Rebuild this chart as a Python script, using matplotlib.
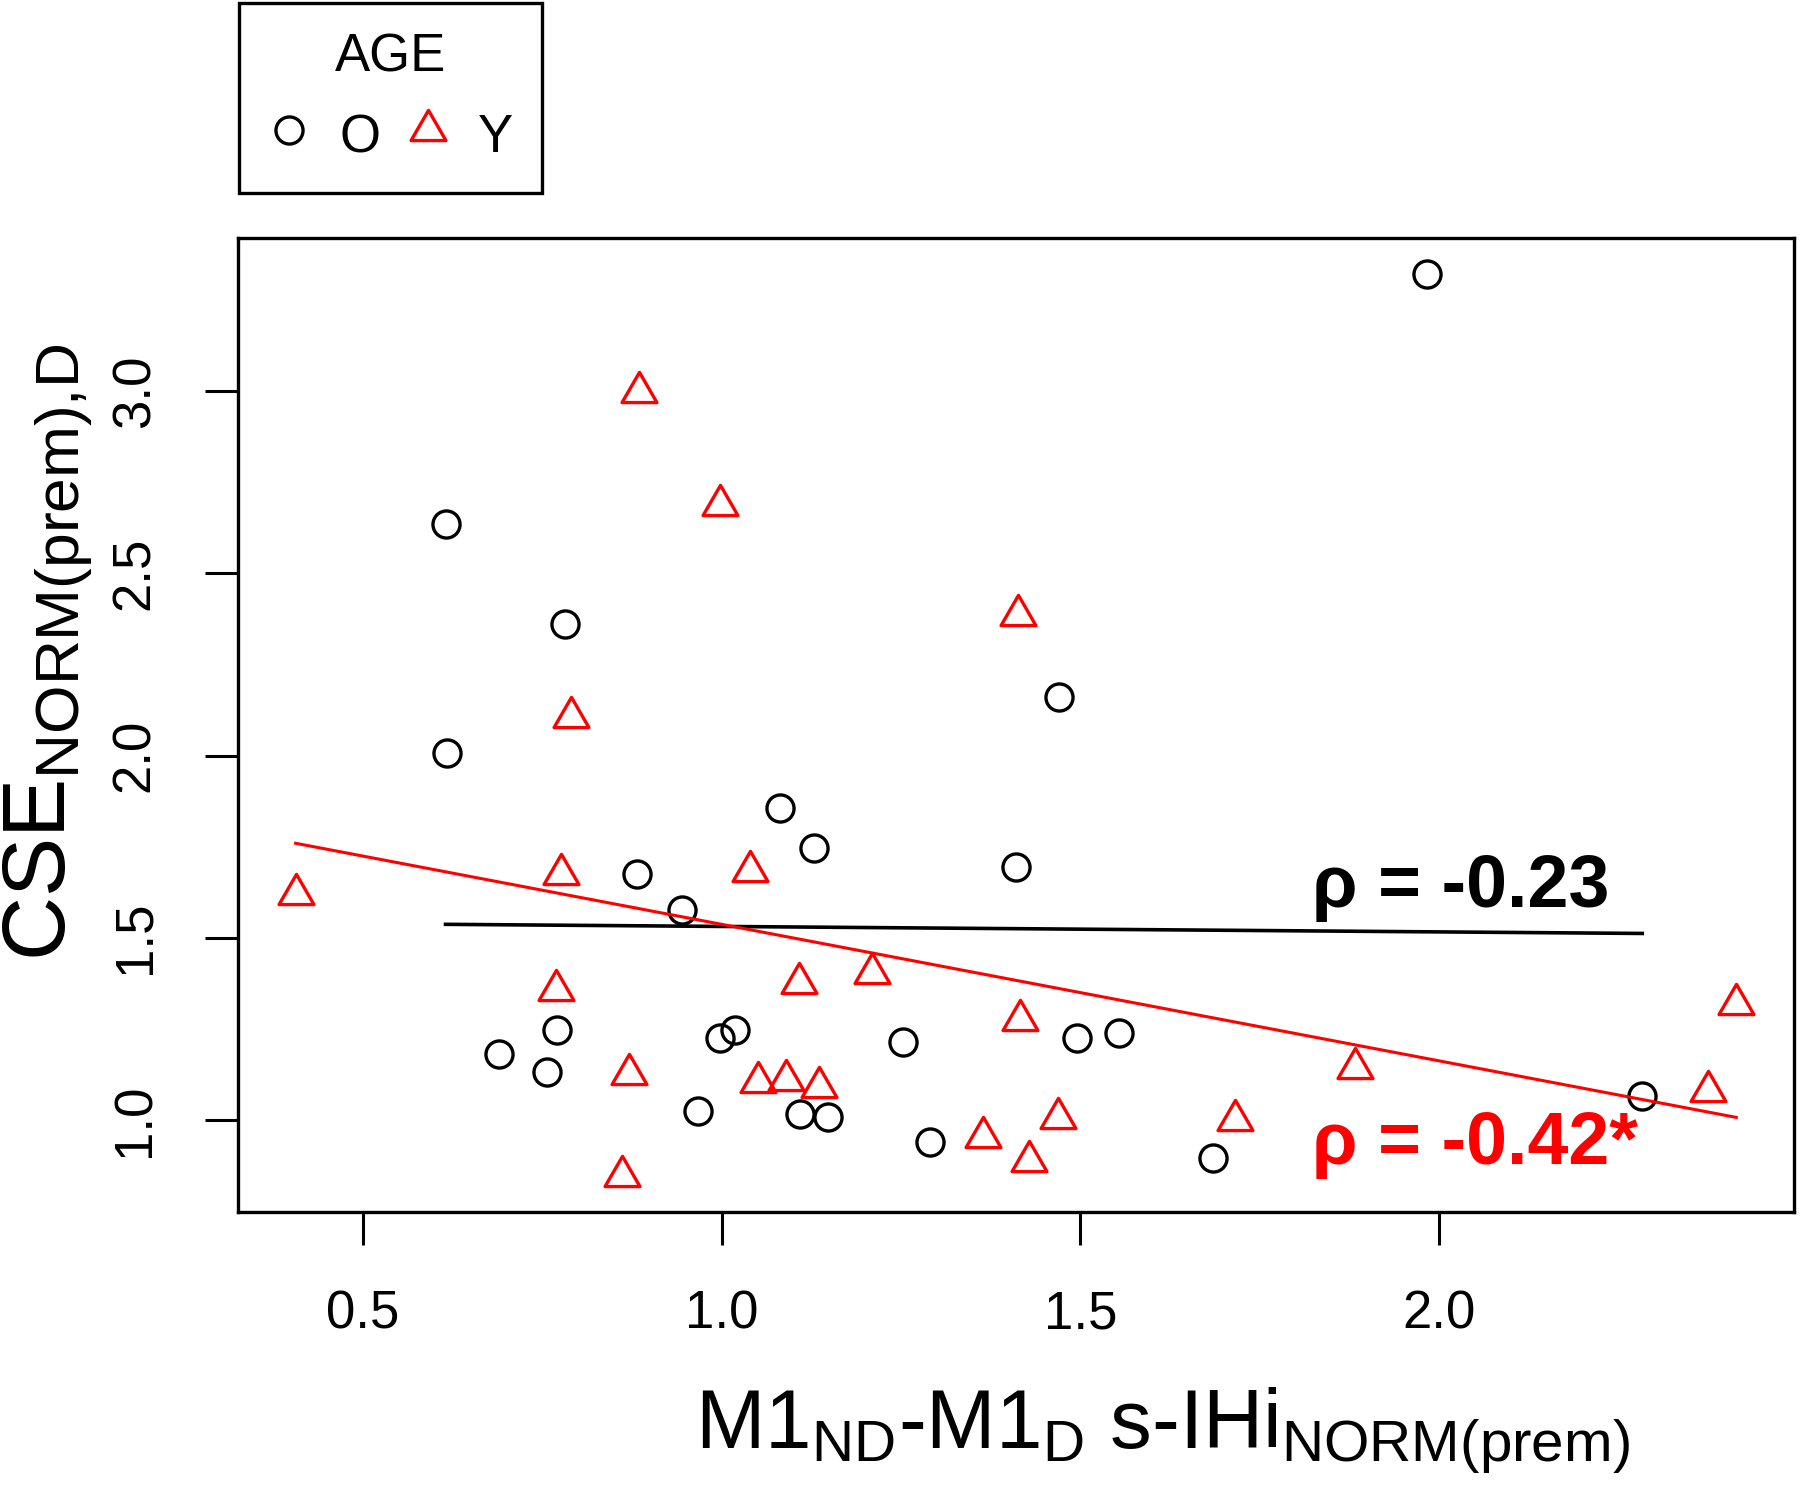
import numpy as np
import matplotlib
matplotlib.use('Agg')
import matplotlib.pyplot as plt
from matplotlib.path import Path
from matplotlib.lines import Line2D

plt.rcParams['font.family'] = ['Liberation Sans', 'DejaVu Sans']
plt.rcParams['mathtext.fontset'] = 'custom'
plt.rcParams['mathtext.rm'] = 'Liberation Sans'
plt.rcParams['mathtext.it'] = 'Liberation Sans'
plt.rcParams['mathtext.bf'] = 'Liberation Sans:bold'

# group O (old) - circles
x_old = [1.983, 0.615, 0.781, 0.617, 1.470, 1.081, 1.129, 1.410, 0.882, 0.945,
         0.689, 0.770, 0.757, 0.997, 1.018, 1.252, 1.495, 1.553, 0.967, 1.109,
         1.148, 1.290, 1.684, 2.283]
y_old = [3.322, 2.635, 2.362, 2.008, 2.162, 1.857, 1.745, 1.693, 1.676, 1.577,
         1.180, 1.246, 1.131, 1.224, 1.246, 1.215, 1.224, 1.239, 1.023, 1.016,
         1.009, 0.938, 0.896, 1.065]

# group Y (young) - triangles
x_young = [0.884, 0.997, 1.413, 0.790, 0.406, 0.776, 1.040, 0.769, 1.108, 1.210,
           1.415, 0.871, 1.050, 1.089, 1.136, 1.882, 2.414, 2.374, 0.861, 1.364,
           1.469, 1.428, 1.715]
y_young = [2.997, 2.688, 2.386, 2.107, 1.619, 1.675, 1.682, 1.356, 1.375, 1.403,
           1.274, 1.127, 1.103, 1.109, 1.091, 1.142, 1.319, 1.079, 0.846, 0.954,
           1.006, 0.887, 1.000]

# fitted lines (intercept, slope) and correlation labels
fit_old = (1.546, -0.015)
fit_young = (1.9115, -0.3748)
rho_old = 'ρ = -0.23'
rho_young = 'ρ = -0.42*'

xticks = [0.5, 1.0, 1.5, 2.0]
yticks = [1.0, 1.5, 2.0, 2.5, 3.0]

# R-style triangle (centroid at the data point)
tri = Path([(0, 1), (np.sqrt(3) / 2, -0.5), (-np.sqrt(3) / 2, -0.5), (0, 1)], closed=True)

fig = plt.figure(figsize=(18, 14.91), dpi=100)
ax = fig.add_axes([0.1322, 0.1871, 0.8644, 0.6533])

ax.plot(x_old, y_old, linestyle='none', marker='o', markersize=19.5,
        markerfacecolor='none', markeredgecolor='black', markeredgewidth=2.4)
ax.plot(x_young, y_young, linestyle='none', marker=tri, markersize=29,
        markerfacecolor='none', markeredgecolor='red', markeredgewidth=2.4)

xo = np.array([min(x_old), max(x_old)])
ax.plot(xo, fit_old[0] + fit_old[1] * xo, color='black', lw=2.6)
xy = np.array([min(x_young), max(x_young)])
ax.plot(xy, fit_young[0] + fit_young[1] * xy, color='red', lw=2.2)

ax.text(1.823, 1.583, rho_old, fontsize=53, fontweight='bold', color='black',
        ha='left', va='baseline')
ax.text(1.823, 0.878, rho_young, fontsize=53, fontweight='bold', color='red',
        ha='left', va='baseline')

allx = x_old + x_young
ally = y_old + y_young
rx = max(allx) - min(allx)
ry = max(ally) - min(ally)
ax.set_xlim(min(allx) - 0.04 * rx, max(allx) + 0.04 * rx)
ax.set_ylim(min(ally) - 0.04 * ry, max(ally) + 0.04 * ry)

ax.set_xticks(xticks)
ax.set_xticklabels(['%.1f' % t for t in xticks])
ax.set_yticks(yticks)
ax.set_yticklabels(['%.1f' % t for t in yticks], rotation=90, va='center')
ax.tick_params(axis='both', direction='out', length=24, width=2.2, labelsize=38, pad=32)
for s in ax.spines.values():
    s.set_linewidth(2.4)

fig.text(1162 / 1800, 1 - 1449 / 1491,
         r'$M1_{ND}\text{-}M1_{D}\ s\text{-}IHi_{NORM(prem)}$',
         fontsize=60, ha='center', va='baseline')
fig.text(65 / 1800, 1 - 652 / 1491, r'$CSE_{NORM(prem){,}D}$',
         fontsize=64, rotation=90, rotation_mode='anchor', ha='center', va='baseline')

handles = [
    Line2D([], [], linestyle='none', marker='o', markersize=19.5, markerfacecolor='none',
           markeredgecolor='black', markeredgewidth=2.4),
    Line2D([], [], linestyle='none', marker=tri, markersize=29, markerfacecolor='none',
           markeredgecolor='red', markeredgewidth=2.4),
]
leg = fig.legend(handles, ['O', 'Y'], title='AGE', ncol=2, loc='upper left',
                 bbox_to_anchor=(239 / 1800, 1 - 3 / 1491), fontsize=38, title_fontsize=38,
                 frameon=True, fancybox=False, edgecolor='black', framealpha=1,
                 handlelength=0.8, handleheight=1.15, handletextpad=0.55, columnspacing=0.5,
                 borderpad=0.55, borderaxespad=0)
leg.get_frame().set_linewidth(2.4)

fig.savefig('out.png', dpi=100)
